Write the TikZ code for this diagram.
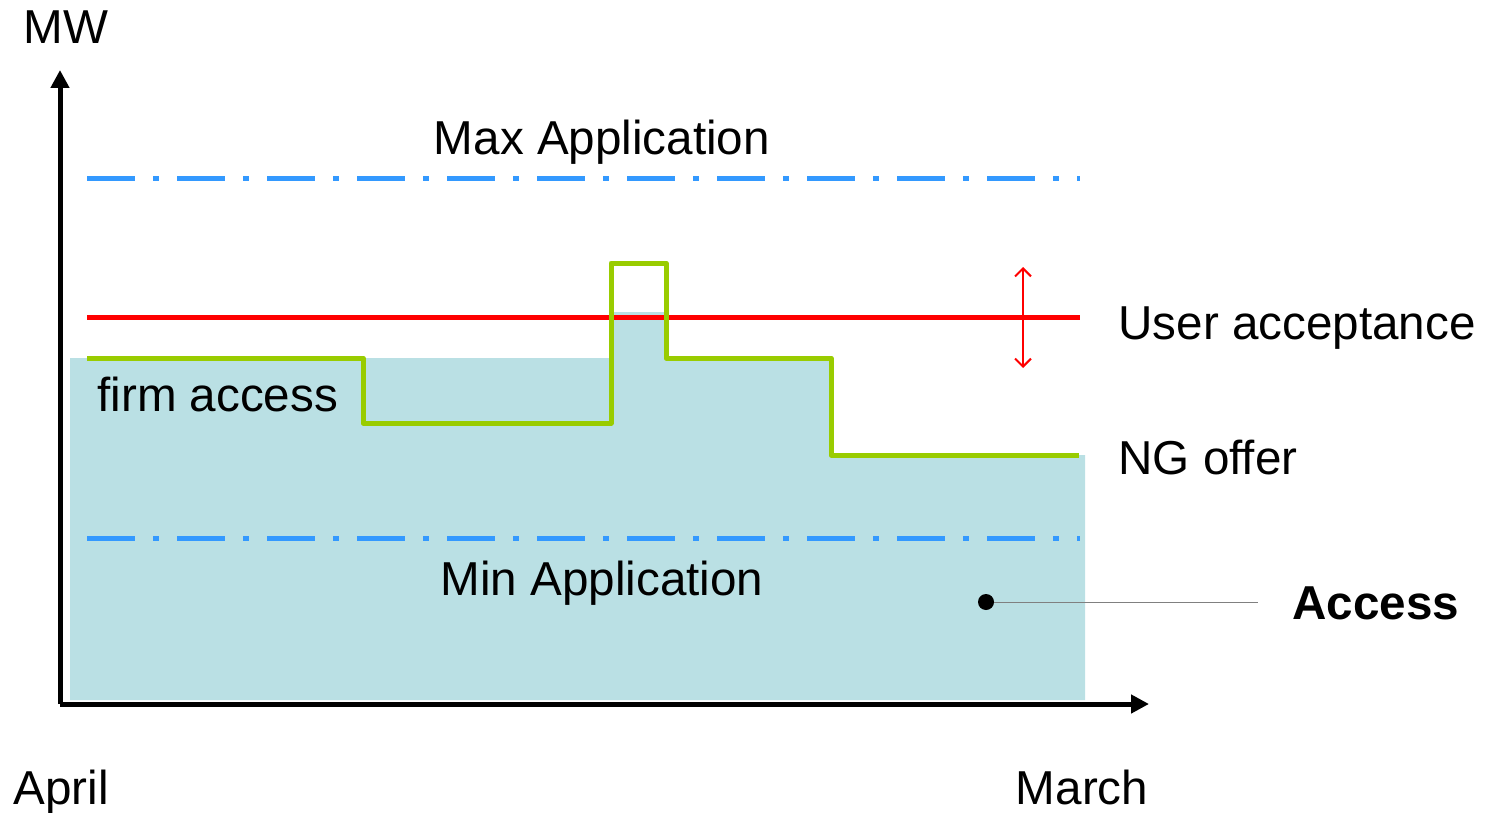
\documentclass[tikz,border=0pt]{standalone}
\usepackage{fontspec}
\setmainfont{Liberation Sans}
\usetikzlibrary{arrows.meta}
\definecolor{accessfill}{HTML}{BAE0E4}
\definecolor{appblue}{HTML}{3399FF}
\definecolor{nggreen}{HTML}{99CC00}
\begin{document}
\begin{tikzpicture}[x=0.5pt,y=-0.5pt,lbl/.style={font=\fontsize{23.8}{28}\selectfont,inner sep=0},axis/.style={line width=2.5pt,-{Triangle[length=9pt,width=9pt]}},appline/.style={appblue,line width=2.5pt,dash pattern=on 24pt off 9pt on 3pt off 9pt},userline/.style={red,line width=2.5pt},ngline/.style={nggreen,line width=2.5pt,line join=round}]
\def\xl{87};
\def\xr{1080};

\useasboundingbox (0,0) rectangle (1488,813);

% access area
\fill[accessfill] (70,700) -- (70,358) -- (612,358) -- (612,312) -- (665,312) -- (665,358) -- (830,358) -- (830,455) -- (1085,455) -- (1085,700) -- cycle;

% axes
\coordinate (O) at (60,704);
\coordinate (ytop) at (60,70);
\coordinate (xend) at (1149,704);
\draw[axis] (O) -- (ytop);
\draw[axis] (O) -- (xend);

% application limits
\coordinate (maxL) at (\xl,178);
\coordinate (maxR) at (\xr,178);
\coordinate (minL) at (\xl,538);
\coordinate (minR) at (\xr,538);
\draw[appline] (maxL) -- (maxR);
\draw[appline] (minL) -- (minR);

% user acceptance
\coordinate (uaL) at (\xl,317);
\coordinate (uaR) at (\xr,317);
\draw[userline] (uaL) -- (uaR);
\coordinate (uaUp) at (1023,267);
\coordinate (uaDn) at (1023,368);
\draw[red,line width=1pt,{Straight Barb[length=4pt,width=8pt]}-{Straight Barb[length=4pt,width=8pt]}] (uaUp) -- (uaDn);

% NG offer
\draw[ngline] (\xl,358) -- (363,358) -- (363,423) -- (611,423) -- (611,263) -- (666,263) -- (666,358) -- (831,358) -- (831,455) -- (1079,455);

% labels
\node[lbl,anchor=base] (MW) at (66,44) {MW};
\node[lbl,anchor=base] (maxT) at (602,155) {Max Application};
\node[lbl,anchor=base] (minT) at (602,595) {Min Application};
\node[lbl,anchor=base west] (uaT) at (1118,339) {User acceptance};
\node[lbl,anchor=base west] (firmT) at (97,411) {firm access};
\node[lbl,anchor=base west] (ngT) at (1118,474) {NG offer};
\node[lbl,anchor=base west] (apr) at (13,804) {April};
\node[lbl,anchor=base] (mar) at (1082,804) {March};
\node[lbl,anchor=base west,font=\fontsize{23.8}{28}\selectfont\bfseries] (accT) at (1292,619) {Access};

% access pointer
\node[circle,fill=black,inner sep=0,minimum size=8pt] (accDot) at (986,602) {};
\coordinate (accEnd) at (1258,602);
\draw[gray,line width=0.5pt] (accDot) -- (accEnd);
\end{tikzpicture}
\end{document}
